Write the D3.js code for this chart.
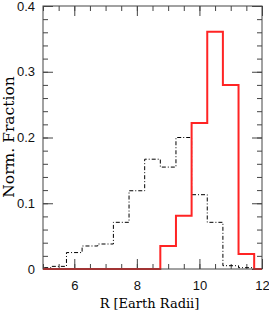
<!DOCTYPE html>
<html>
<head>
<meta charset="utf-8">
<script src="https://cdn.jsdelivr.net/npm/d3@7"></script>
<style>
  body { margin: 0; background: #fff; }
  svg { display: block; }
  .tick text { font-family: "Liberation Sans", Arial, sans-serif; font-size: 13px; fill: #111; }
  .domain { display: none; }
  .tick line { stroke: #444; }
</style>
</head>
<body>
<div id="chart"></div>
<script>
// bin centres (width 0.5) and normalised fractions
var binCenters = [5.0, 5.5, 6.0, 6.5, 7.0, 7.5, 8.0, 8.5, 9.0, 9.5, 10.0, 10.5, 11.0, 11.5, 12.0];
var redFraction = [0, 0, 0, 0, 0, 0, 0, 0, 0.035, 0.081, 0.222, 0.361, 0.280, 0.023, 0];
var blackFraction = [0.002, 0.004, 0.025, 0.035, 0.038, 0.071, 0.119, 0.167, 0.155, 0.200, 0.113, 0.071, 0.005, 0.002, 0];
var xMajor = [6, 8, 10, 12];
var yMajor = [0, 0.1, 0.2, 0.3, 0.4];

function drawChart(dom, options) {
    var width = 269, height = 312;
    var left = 43, right = 262, top = 6, bottom = 269;
    var binWidth = 0.5;

    var x = d3.scaleLinear().domain([5, 12]).range([left, right]);
    var y = d3.scaleLinear().domain([0, 0.4]).range([bottom, top]);

    var svg = d3.select(dom).append('svg')
        .attr('width', width)
        .attr('height', height);

    svg.append('clipPath').attr('id', 'plotClip')
        .append('rect')
        .attr('x', left).attr('y', top - 2)
        .attr('width', right - left).attr('height', bottom - top + 4);

    var xMinor = d3.range(5, 12.01, 0.5);
    var yMinor = d3.range(0, 0.401, 0.02);

    // minor ticks, all four sides, pointing inwards
    svg.append('g').attr('transform', 'translate(0,' + bottom + ')')
        .call(d3.axisBottom(x).tickValues(xMinor).tickSize(-5).tickFormat(''));
    svg.append('g').attr('transform', 'translate(0,' + top + ')')
        .call(d3.axisTop(x).tickValues(xMinor).tickSize(-5).tickFormat(''));
    svg.append('g').attr('transform', 'translate(' + left + ',0)')
        .call(d3.axisLeft(y).tickValues(yMinor).tickSize(-5).tickFormat(''));
    svg.append('g').attr('transform', 'translate(' + right + ',0)')
        .call(d3.axisRight(y).tickValues(yMinor).tickSize(-5).tickFormat(''));

    // major ticks with labels
    var xAxis = svg.append('g').attr('transform', 'translate(0,' + bottom + ')')
        .call(d3.axisBottom(x).tickValues(xMajor).tickSize(-10).tickPadding(9).tickFormat(d3.format('d')));
    xAxis.selectAll('text').attr('dy', '0.9em');
    svg.append('g').attr('transform', 'translate(0,' + top + ')')
        .call(d3.axisTop(x).tickValues(xMajor).tickSize(-10).tickFormat(''));
    svg.append('g').attr('transform', 'translate(' + left + ',0)')
        .call(d3.axisLeft(y).tickValues(yMajor).tickSize(-10).tickPadding(8)
            .tickFormat(function (d) { return d === 0 ? '0' : d3.format('.1f')(d); }));
    svg.append('g').attr('transform', 'translate(' + right + ',0)')
        .call(d3.axisRight(y).tickValues(yMajor).tickSize(-10).tickFormat(''));

    // histograms as steps
    function stepPoints(values) {
        var pts = values.map(function (v, i) { return [binCenters[i] - binWidth / 2, v]; });
        var last = values.length - 1;
        pts.push([binCenters[last] + binWidth / 2, values[last]]);
        return pts;
    }
    var line = d3.line()
        .x(function (d) { return x(d[0]); })
        .y(function (d) { return y(d[1]); })
        .curve(d3.curveStepAfter);

    var plot = svg.append('g').attr('clip-path', 'url(#plotClip)');
    plot.append('path')
        .attr('d', line(stepPoints(blackFraction)))
        .attr('fill', 'none')
        .attr('stroke', '#000')
        .attr('stroke-width', 1)
        .attr('stroke-dasharray', '4,2,1,2');
    plot.append('path')
        .attr('d', line(stepPoints(redFraction)))
        .attr('fill', 'none')
        .attr('stroke', '#ff2424')
        .attr('stroke-width', 2);

    // frame
    svg.append('rect')
        .attr('x', left).attr('y', top)
        .attr('width', right - left).attr('height', bottom - top)
        .attr('fill', 'none')
        .attr('stroke', '#444')
        .attr('stroke-width', 1);

    svg.append('text')
        .attr('x', (left + right) / 2 - 3)
        .attr('y', 308)
        .attr('text-anchor', 'middle')
        .style('font-family', '"DejaVu Serif", serif')
        .style('font-size', '13px')
        .text('R [Earth Radii]');

    svg.append('text')
        .attr('transform', 'translate(14,' + 137 + ') rotate(-90)')
        .attr('text-anchor', 'middle')
        .style('font-family', '"DejaVu Serif", serif')
        .style('font-size', '15.5px')
        .text('Norm. Fraction');
}

drawChart('#chart', {});
</script>
</body>
</html>
